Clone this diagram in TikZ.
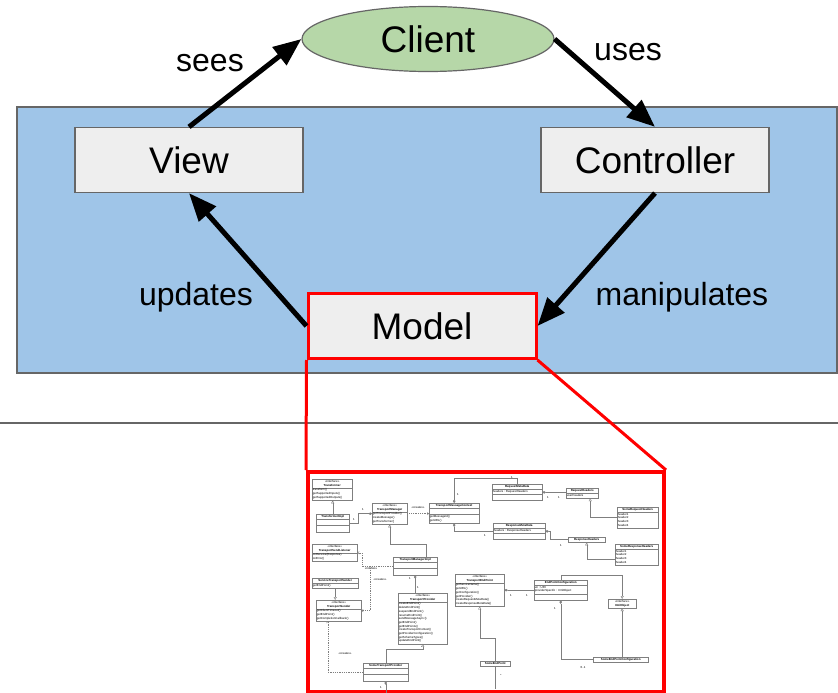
\documentclass[tikz,border=0pt]{standalone}
\usepackage{fontspec}
\setmainfont{Liberation Sans}
\usetikzlibrary{arrows.meta, shapes.geometric, shapes.multipart, positioning}

\definecolor{mvcblue}{HTML}{9FC5E8}
\definecolor{boxgray}{HTML}{EEEEEE}
\definecolor{clientgreen}{HTML}{B6D7A8}
\definecolor{edgegray}{HTML}{666666}
\definecolor{umlgray}{HTML}{7F7F7F}
\newcommand{\umlfont}{\fontsize{2.9}{3.7}\selectfont}
\newcommand{\umlhead}[1]{\begin{tabular}{@{}c@{}}#1\end{tabular}}
\newcommand{\umlrows}[1]{\begin{tabular}{@{}l@{}}#1\end{tabular}}

\tikzset{
	part/.style={draw=edgegray, line width=1.2pt, fill=boxgray, minimum width=228pt, minimum height=65pt, font=\fontsize{37}{40}\selectfont},
	flow/.style={line width=5pt, -{Triangle[length=28pt, width=22pt]}},
	tag/.style={font=\fontsize{32}{35}\selectfont},
	cls/.style 2 args={draw=umlgray, line width=0.4pt, fill=white, rectangle split, rectangle split parts=#1, rectangle split empty part height=2pt, rectangle split part align={center, left, left}, minimum width=#2pt, inner xsep=0.6pt, inner ysep=0.4pt, anchor=north west, font=\umlfont},
	card/.style={font=\umlfont, inner sep=0pt},
	uml/.style={draw=umlgray, line width=0.4pt},
	gen/.style={uml, -{Triangle[open, length=3pt, width=3pt]}},
	comp/.style={uml, {Diamond[length=3.5pt, width=2.5pt]}-},
	dep/.style={uml, dash pattern=on 1pt off 0.8pt, -{Straight Barb[length=1.5pt, width=2.5pt]}},
}

\begin{document}
\begin{tikzpicture}[x=1pt, y=-1pt]
	\useasboundingbox (0,0) rectangle (838,693);

	\draw[edgegray, line width=1.5pt] (0,423) -- (838,423);
	\draw[draw=edgegray, fill=mvcblue, line width=1.5pt] (17,107) rectangle (837,373);

	\node[ellipse, draw=edgegray, line width=1.2pt, fill=clientgreen, minimum width=252pt, minimum height=65pt, inner sep=0pt, font=\fontsize{37}{40}\selectfont] (client) at (428,39) {Client};
	\node[part] (view) at (189,160) {View};
	\node[part] (controller) at (655,160) {Controller};
	\node[part, draw=red, line width=3pt] (model) at (422,326) {Model};

	\draw[flow] (view.north) -- (client.west);
	\draw[flow] (client.east) -- (controller.north);
	\draw[flow] (controller.south) -- (model.east);
	\draw[flow] (model.west) -- (view.south);

	\node[tag] (seestag) at (210,63) {sees};
	\node[tag] (usestag) at (628,52) {uses};
	\node[tag] (updatestag) at (196,297) {updates};
	\node[tag] (manipulatestag) at (682,297) {manipulates};

	% zoom into the model
	\node[draw=red, line width=4pt, fill=white, minimum width=356pt, minimum height=220pt, anchor=north west] (zoombox) at (306,470) {};
	\draw[red, line width=3pt] (model.south west) -- (zoombox.north west);
	\draw[red, line width=3pt] (model.south east) -- (zoombox.north east);

	% classes
	\node[cls={2}{40}] (transformer) at (312,479) {\umlhead{«interface»\\\textbf{Transformer}}\nodepart{second}\umlrows{transform()\\getSupportedInputs()\\getSupportedOutputs()}};
	\node[cls={3}{33}] (transformerimpl) at (316,514) {\umlhead{\textbf{TransformerImpl}}};
	\node[cls={2}{35}] (transportmanager) at (372,503) {\umlhead{«interface»\\\textbf{TransportManager}}\nodepart{second}\umlrows{getTransportProvider()\\createMessage()\\getTransformer()}};
	\node[cls={3}{50}] (messagecontext) at (429,503) {\umlhead{\textbf{TransportMessageContext}}\nodepart{third}\umlrows{getMessageId()\\getURL()}};
	\node[cls={3}{50}] (requestmeta) at (492,484) {\umlhead{\textbf{RequestMetaData}}\nodepart{second}\umlrows{headers : RequestHeaders}};
	\node[cls={2}{32}] (requestheaders) at (566,488) {\umlhead{\textbf{RequestHeaders}}\nodepart{second}\umlrows{userHeaders}};
	\node[cls={2}{41}] (somerequestheaders) at (617,507) {\umlhead{\textbf{SomeRequestHeaders}}\nodepart{second}\umlrows{header1\\header2\\header3\\header4}};
	\node[cls={3}{52}] (responsemeta) at (493,523) {\umlhead{\textbf{ResponseMetaData}}\nodepart{second}\umlrows{headers : ResponseHeaders}};
	\node[cls={1}{37}] (responseheaders) at (568,537) {\umlhead{\textbf{ResponseHeaders}}};
	\node[cls={2}{43}] (someresponseheaders) at (615,544) {\umlhead{\textbf{SomeResponseHeaders}}\nodepart{second}\umlrows{header1\\header2\\header3\\header4}};
	\node[cls={2}{45}] (sendlistener) at (312,544) {\umlhead{«interface»\\\textbf{TransportSendListener}}\nodepart{second}\umlrows{onReceive(Response)\\onError()}};
	\node[cls={3}{44}] (managerimpl) at (393,557) {\umlhead{\textbf{TransportManagerImpl}}};
	\node[cls={2}{46}] (servicesender) at (312,578) {\umlhead{\textbf{ServiceTransportSender}}\nodepart{second}\umlrows{getEndPoint()}};
	\node[cls={2}{45}] (transportsender) at (316,600) {\umlhead{«interface»\\\textbf{TransportSender}}\nodepart{second}\umlrows{getClientTimeout()\\getEndPoint()\\getCompletionCallback()}};
	\node[cls={2}{49}] (provider) at (398,593) {\umlhead{«interface»\\\textbf{TransportProvider}}\nodepart{second}\umlrows{createEndPoint()\\deleteEndPoint()\\suspendEndPoint()\\resumeEndPoint()\\sendMessageAsync()\\getEndPoint()\\getEndPoints()\\createTransportContext()\\getProviderConfiguration()\\getSchemaTypes()\\updateEndPoint()}};
	\node[cls={3}{45}] (someprovider) at (363,663) {\umlhead{\textbf{SomeTransportProvider}}};
	\node[cls={2}{49}] (endpoint) at (455,574) {\umlhead{«interface»\\\textbf{TransportEndPoint}}\nodepart{second}\umlrows{getServiceName()\\getURL()\\getConfiguration()\\getProvider()\\createRequestMetaData()\\createResponseMetaData()}};
	\node[cls={3}{53}] (endpointconf) at (534,580) {\umlhead{\textbf{EndPointConfiguration}}\nodepart{second}\umlrows{uri : URI\\providerSpecific : XmlObject}};
	\node[cls={1}{28}] (xmlobject) at (608,599) {\umlhead{«interface»\\\textbf{XmlObject}}};
	\node[cls={1}{55}] (someendpointconf) at (593,657) {\umlhead{\textbf{SomeEndPointConfiguration}}};
	\node[cls={1}{30}] (someendpoint) at (480,661) {\umlhead{\textbf{SomeEndPoint}}};

	% relations
	\draw[gen] (transformerimpl.north) -- (transformerimpl.north |- transformer.south);
	\draw[comp] (transportmanager.west) -- ++(-14,0) |- (transformerimpl.east);
	\node[card] (tm1) at (363,509) {1};
	\node[card] (ti1) at (354,519) {1};
	\draw[dep] (transportmanager.east) -- (transportmanager.east -| messagecontext.west);
	\node[card] (createstag) at (418,508) {«creates»};
	\draw[comp] (messagecontext.north) -- ++(0,-25) -| (requestmeta.north);
	\node[card] (mc1) at (458,494) {1};
	\node[card] (rq1) at (512,477) {1};
	\draw[comp] (messagecontext.south) |- (responsemeta.west);
	\node[card] (rs1) at (485,535) {1};
	\draw[comp] (requestmeta.east) -- (requestmeta.east -| requestheaders.west);
	\node[card] (rm1) at (548,497) {1};
	\node[card] (rh1) at (559,497) {1};
	\draw[gen] (somerequestheaders.west) -| ([xshift=8pt]requestheaders.south);
	\draw[comp] (responsemeta.east) -- ++(5,0) |- (responseheaders.west);
	\node[card] (rsh1) at (561,545) {1};
	\draw[gen] ([yshift=-5pt]someresponseheaders.west) -| (responseheaders.south);
	\draw[gen] ([xshift=11pt]managerimpl.north) -- ++(0,-13) -| (transportmanager.south);
	\draw[dep] (managerimpl.west) -- ++(-31,0) |- (sendlistener.east);
	\node[card] (notifiestag) at (371,568) {«notifies»};
	\draw[dep] (managerimpl.west) ++(-23,0) |- (transportsender.east);
	\node[card] (creates2tag) at (380,580) {«creates»};
	\draw[gen] (servicesender.south) -- (servicesender.south |- transportsender.north);
	\draw[dep] (someprovider.west) -| ([xshift=-11pt]transportsender.south);
	\node[card] (creates3tag) at (345,654) {«creates»};
	\draw[comp] (managerimpl.south) -- (managerimpl.south |- provider.north);
	\node[card] (mi1) at (410,578) {1};
	\node[card] (pr1) at (418,587) {1};
	\draw[gen] (someprovider.north) -- ++(0,-14) -| (provider.south);
	\draw[comp] (someprovider.south) -- ++(0,12);
	\node[card] (sp1) at (381,687) {1};
	\draw[comp] (endpoint.east) -- (endpoint.east -| endpointconf.west);
	\node[card] (ep1) at (511,595) {1};
	\node[card] (ec1) at (527,595) {1};
	\draw[gen] (endpointconf.north) -- ++(0,-5) -| (xmlobject.north);
	\draw[gen] (someendpointconf.north -| xmlobject.south) -- (xmlobject.south);
	\draw[comp] (endpointconf.south) |- (someendpointconf.west);
	\node[card] (ec2) at (555,608) {1};
	\node[card] (sec01) at (583,667) {0..1};
	\draw[gen] (someendpoint.north) -- ++(0,-23) -| (endpoint.south);
	\draw[uml] (someendpoint.south) -- ++(0,23);
	\node[card] (sestar) at (501,675) {*};
\end{tikzpicture}
\end{document}
